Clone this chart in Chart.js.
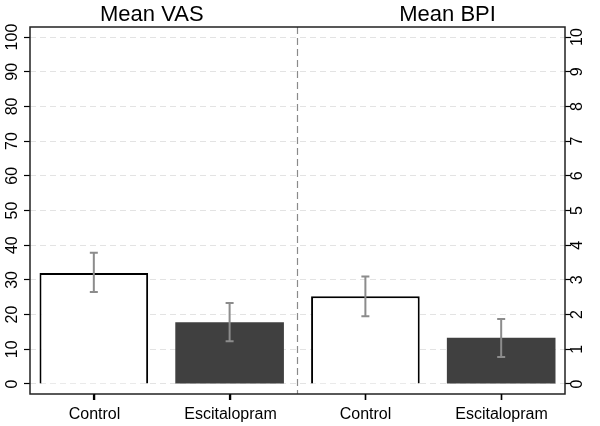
<!DOCTYPE html>
<html>
<head>
<meta charset="utf-8">
<script src="https://cdn.jsdelivr.net/npm/chart.js@4"></script>
<style>
  html, body { margin: 0; padding: 0; background: #fff; }
  #wrap { width: 600px; height: 426px; }
</style>
</head>
<body>
<div id="wrap"><canvas id="chart"></canvas></div>
<script>
// Data
const categories = ['Control', 'Escitalopram', 'Control', 'Escitalopram'];
const panelTitles = ['Mean VAS', 'Mean BPI'];
const vasMean = [32.0, 17.8];
const vasLow = [26.5, 12.3];
const vasHigh = [37.8, 23.3];
const bpiMean = [2.53, 1.33];
const bpiLow = [1.95, 0.78];
const bpiHigh = [3.1, 1.87];
const vasTicks = [0, 10, 20, 30, 40, 50, 60, 70, 80, 90, 100];
const bpiTicks = [0, 1, 2, 3, 4, 5, 6, 7, 8, 9, 10];

const FONT = '"Liberation Sans", Arial, sans-serif';
const fills = ['#ffffff', '#404040'];
const edges = ['#000000', '#404040'];

// Error bars, frame, divider, titles and axis labels
const decor = {
    id: 'decor',
    afterDraw(chart) {
        const ctx = chart.ctx;
        const x = chart.scales.x;
        const area = chart.chartArea;
        const sets = [
            { scale: chart.scales.yL, low: vasLow, high: vasHigh, offset: 0 },
            { scale: chart.scales.yR, low: bpiLow, high: bpiHigh, offset: 2 }
        ];
        ctx.save();
        ctx.strokeStyle = '#8c8c8c';
        ctx.lineWidth = 2;
        sets.forEach(s => {
            s.low.forEach((lo, i) => {
                const px = x.getPixelForValue(i + s.offset);
                const y1 = s.scale.getPixelForValue(lo);
                const y2 = s.scale.getPixelForValue(s.high[i]);
                ctx.beginPath();
                ctx.moveTo(px, y1); ctx.lineTo(px, y2);
                ctx.moveTo(px - 4, y1); ctx.lineTo(px + 4, y1);
                ctx.moveTo(px - 4, y2); ctx.lineTo(px + 4, y2);
                ctx.stroke();
            });
        });

        // divider between panels
        const mid = x.getPixelForValue(1.5);
        ctx.strokeStyle = '#8a8a8a';
        ctx.lineWidth = 1.2;
        ctx.setLineDash([7, 4]);
        ctx.beginPath();
        ctx.moveTo(mid, area.top); ctx.lineTo(mid, area.bottom);
        ctx.stroke();
        ctx.setLineDash([]);

        // frame
        ctx.strokeStyle = '#222';
        ctx.lineWidth = 1.5;
        ctx.strokeRect(area.left, area.top, area.right - area.left, area.bottom - area.top);

        // category tick marks and labels
        ctx.strokeStyle = '#000';
        ctx.lineWidth = 1.5;
        ctx.fillStyle = '#000';
        ctx.font = '16px ' + FONT;
        ctx.textAlign = 'center';
        ctx.textBaseline = 'alphabetic';
        categories.forEach((c, i) => {
            const px = Math.round(x.getPixelForValue(i)) + 0.5;
            ctx.beginPath();
            ctx.moveTo(px, area.bottom); ctx.lineTo(px, area.bottom + 6);
            ctx.stroke();
            ctx.fillText(c, px, area.bottom + 25);
        });

        // titles
        ctx.font = '22px ' + FONT;
        ctx.fillText(panelTitles[0], chart.width * 0.253, 21);
        ctx.fillText(panelTitles[1], chart.width * 0.746, 21);

        // rotated y tick labels
        ctx.font = '16px ' + FONT;
        ctx.textBaseline = 'middle';
        const drawLabels = (scale, ticks, lx) => {
            ticks.forEach(t => {
                const py = scale.getPixelForValue(t);
                ctx.save();
                ctx.translate(lx, py);
                ctx.rotate(-Math.PI / 2);
                ctx.fillText(String(t), 0, 0);
                ctx.restore();
            });
        };
        drawLabels(chart.scales.yL, vasTicks, area.left - 17);
        drawLabels(chart.scales.yR, bpiTicks, area.right + 13);
        ctx.restore();
    }
};

new Chart(document.getElementById('chart'), {
    type: 'bar',
    data: {
        datasets: [
            {
                label: panelTitles[0],
                data: vasMean.map((v, i) => ({ x: i, y: v })),
                yAxisID: 'yL',
                backgroundColor: fills,
                borderColor: edges,
                borderWidth: [2, 0]
            },
            {
                label: panelTitles[1],
                data: bpiMean.map((v, i) => ({ x: i + 2, y: v })),
                yAxisID: 'yR',
                backgroundColor: fills,
                borderColor: edges,
                borderWidth: [2, 0]
            }
        ]
    },
    options: {
        responsive: true,
        maintainAspectRatio: false,
        animation: false,
        grouped: false,
        barPercentage: 0.8,
        categoryPercentage: 1,
        layout: { padding: { left: 24, right: 29, top: 27, bottom: 26 } },
        plugins: { legend: { display: false }, tooltip: { enabled: false } },
        scales: {
            x: {
                type: 'linear',
                offset: false,
                min: -0.47,
                max: 3.47,
                afterBuildTicks: (s) => { s.ticks = categories.map((c, i) => ({ value: i })); },
                ticks: { display: false },
                grid: { drawOnChartArea: false, offset: false, tickLength: 6, tickColor: '#000', tickWidth: 1.2 },
                border: { display: false }
            },
            yL: {
                position: 'left',
                min: -2.9,
                max: 102.9,
                afterBuildTicks: (s) => { s.ticks = vasTicks.map(v => ({ value: v })); },
                ticks: { display: false },
                grid: { color: '#e3e3e3', lineWidth: 1, tickLength: 6, tickColor: '#000', tickWidth: 1.2 },
                border: { display: false, dash: [6, 4] }
            },
            yR: {
                position: 'right',
                min: -0.29,
                max: 10.29,
                afterBuildTicks: (s) => { s.ticks = bpiTicks.map(v => ({ value: v })); },
                ticks: { display: false },
                grid: { drawOnChartArea: false, tickLength: 6, tickColor: '#000', tickWidth: 1.2 },
                border: { display: false }
            }
        }
    },
    plugins: [decor]
});
</script>
</body>
</html>
